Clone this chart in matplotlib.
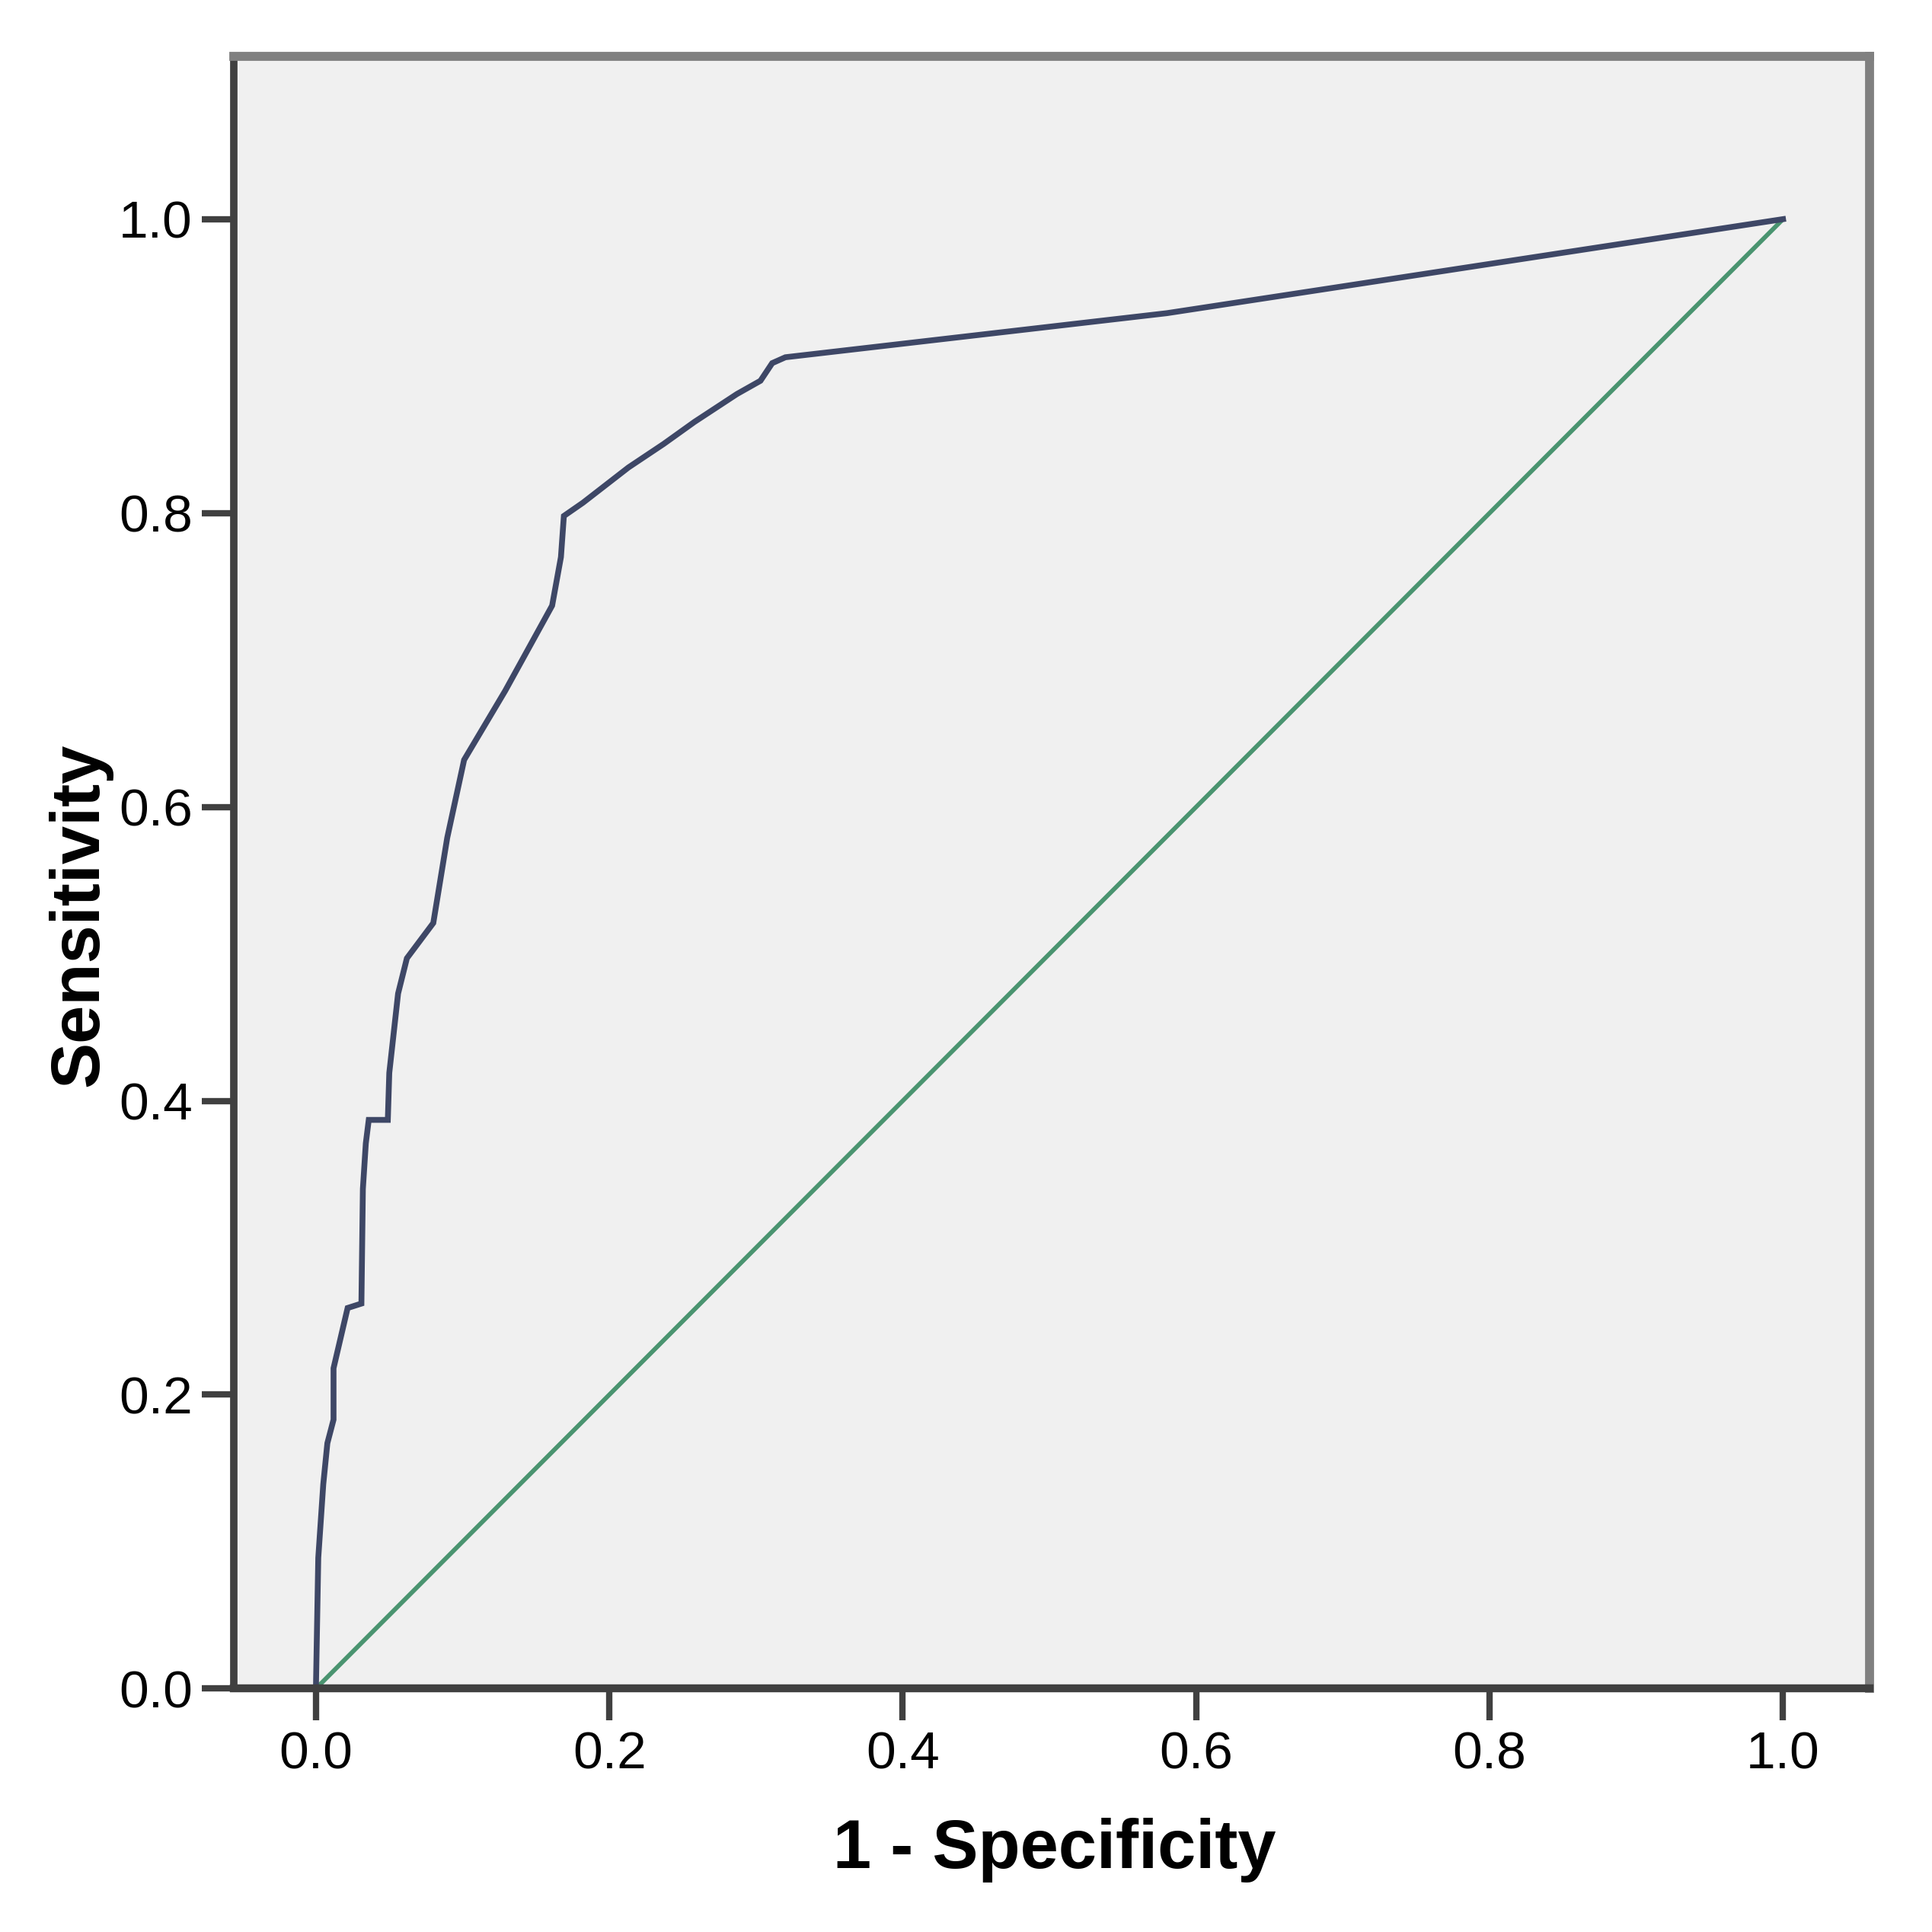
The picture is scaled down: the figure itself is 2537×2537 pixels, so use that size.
import matplotlib
matplotlib.use('Agg')
import matplotlib.pyplot as plt

# ROC curve points
fpr = [0.0, 0.0016, 0.005, 0.0078, 0.012, 0.012, 0.0216, 0.031, 0.032, 0.034,
       0.036, 0.049, 0.050, 0.056, 0.062, 0.080, 0.0895, 0.101, 0.129, 0.161,
       0.167, 0.169, 0.182, 0.213, 0.237, 0.258, 0.287, 0.303, 0.311, 0.320,
       0.580, 0.672, 1.0]
tpr = [0.0, 0.089, 0.139, 0.167, 0.183, 0.218, 0.259, 0.262, 0.340, 0.371,
       0.387, 0.387, 0.419, 0.473, 0.497, 0.521, 0.579, 0.632, 0.679, 0.737,
       0.770, 0.798, 0.807, 0.831, 0.847, 0.862, 0.881, 0.890, 0.902, 0.906,
       0.936, 0.950, 1.0]

ref_x = [0.0, 1.0]
ref_y = [0.0, 1.0]

ticks = [0.0, 0.2, 0.4, 0.6, 0.8, 1.0]
tick_labels = ['0.0', '0.2', '0.4', '0.6', '0.8', '1.0']

narrow = ['Liberation Sans Narrow', 'Liberation Sans', 'DejaVu Sans']

fig = plt.figure(figsize=(25.37, 25.37), dpi=100)
ax = fig.add_axes([0.121, 0.126, 0.8467, 0.845])
ax.set_facecolor('#f0f0f0')

ax.plot(ref_x, ref_y, color='#4a9470', lw=4.2, solid_capstyle='butt')
ax.plot(fpr, tpr, color='#3e4766', lw=5.5, solid_joinstyle='miter')

ax.set_xlim(-0.056, 1.059)
ax.set_ylim(0.0, 1.111)

ax.set_xticks(ticks)
ax.set_yticks(ticks)
ax.set_xticklabels(tick_labels, family=narrow, fontsize=50)
ax.set_yticklabels(tick_labels, family=narrow, fontsize=50)
ax.tick_params(axis='both', direction='out', length=30, width=6, color='#404040')
ax.tick_params(axis='x', pad=10)
ax.tick_params(axis='y', pad=9)

ax.spines['left'].set_color('#404040')
ax.spines['left'].set_linewidth(7)
ax.spines['bottom'].set_color('#404040')
ax.spines['bottom'].set_linewidth(7.5)
ax.spines['top'].set_color('#808080')
ax.spines['top'].set_linewidth(8.5)
ax.spines['right'].set_color('#808080')
ax.spines['right'].set_linewidth(8.5)

ax.set_xlabel('1 - Specificity', fontsize=65, fontweight='bold',
              family=['Liberation Sans', 'DejaVu Sans'], va='center')
ax.xaxis.set_label_coords(0.502, -0.099)
ax.set_ylabel('Sensitivity', fontsize=65, fontweight='bold',
              family=['Liberation Sans', 'DejaVu Sans'], va='center')
ax.yaxis.set_label_coords(-0.094, 0.474)

fig.savefig('out.png', dpi=100, facecolor='white')
